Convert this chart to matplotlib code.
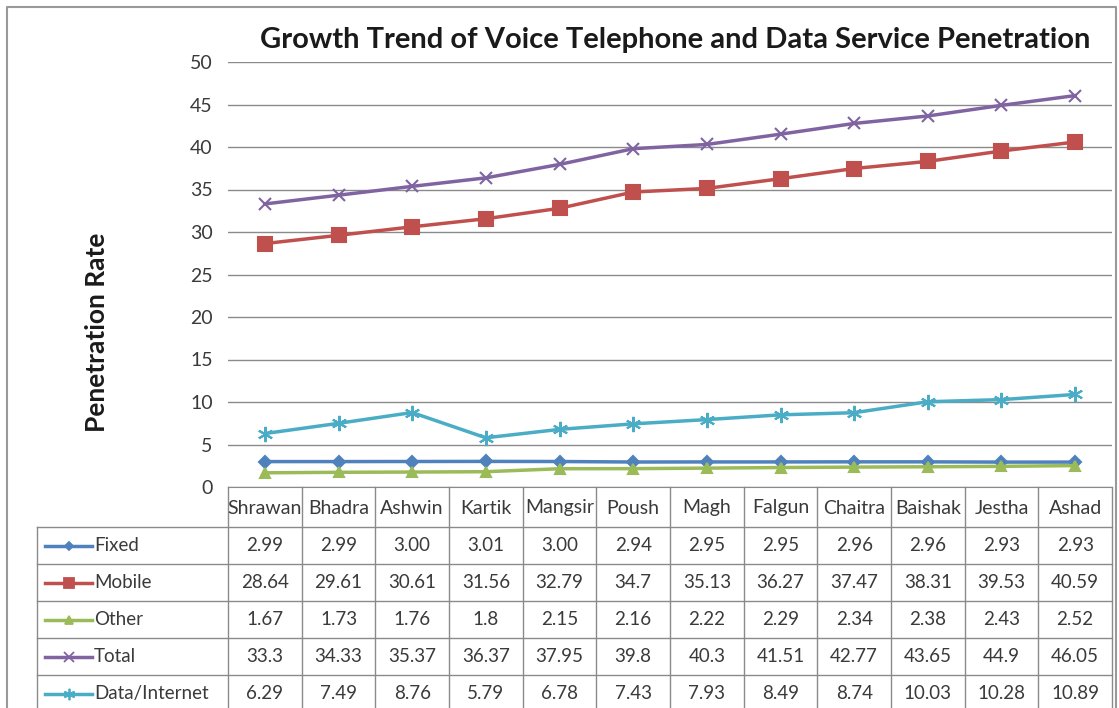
import matplotlib.pyplot as plt

plt.rcParams['font.family'] = ['Lato', 'DejaVu Sans']

months = ["Shrawan", "Bhadra", "Ashwin", "Kartik", "Mangsir", "Poush",
          "Magh", "Falgun", "Chaitra", "Baishak", "Jestha", "Ashad"]

fixed = [2.99, 2.99, 3.00, 3.01, 3.00, 2.94, 2.95, 2.95, 2.96, 2.96, 2.93, 2.93]
mobile = [28.64, 29.61, 30.61, 31.56, 32.79, 34.7, 35.13, 36.27, 37.47, 38.31, 39.53, 40.59]
other = [1.67, 1.73, 1.76, 1.8, 2.15, 2.16, 2.22, 2.29, 2.34, 2.38, 2.43, 2.52]
total = [33.3, 34.33, 35.37, 36.37, 37.95, 39.8, 40.3, 41.51, 42.77, 43.65, 44.9, 46.05]
data_net = [6.29, 7.49, 8.76, 5.79, 6.78, 7.43, 7.93, 8.49, 8.74, 10.03, 10.28, 10.89]

# label text as printed in the table
fixed_txt = ["2.99", "2.99", "3.00", "3.01", "3.00", "2.94", "2.95", "2.95", "2.96", "2.96", "2.93", "2.93"]

series = [
    ("Fixed", fixed, fixed_txt, "#4F81BD", "D", 6),
    ("Mobile", mobile, None, "#C0504D", "s", 10),
    ("Other", other, None, "#9BBB59", "^", 7),
    ("Total", total, None, "#8064A2", "x", 9),
    ("Data/Internet", data_net, None, "#4BACC6", (6, 2, 0), 11),
]

W, H = 1119, 708
fig = plt.figure(figsize=(W / 100, H / 100), dpi=100)
txt_c = "#3a3a3a"

# plot area in pixel terms
px_l, px_r, px_t, px_b = 228, 1112, 62, 487
ax = fig.add_axes([px_l / W, 1 - px_b / H, (px_r - px_l) / W, (px_b - px_t) / H])
x = list(range(len(months)))
for name, vals, txt, col, mk, ms in series:
    ax.plot(x, vals, color=col, lw=2.5, marker=mk, ms=ms, mew=1.5, zorder=3)
ax.set_xlim(-0.5, len(months) - 0.5)
ax.set_ylim(0, 50)
ax.set_yticks(range(0, 51, 5))
ax.yaxis.grid(True, color="#8a8a8a", lw=1)
ax.set_axisbelow(True)
ax.set_xticks([])
ax.tick_params(axis="y", length=0, labelsize=14, labelcolor=txt_c, pad=11)
for s in ax.spines.values():
    s.set_visible(False)
ax.spines["bottom"].set_visible(True)
ax.spines["bottom"].set_color("#8a8a8a")

# overlay in pixel coordinates for title, label and data table
ov = fig.add_axes([0, 0, 1, 1], zorder=5)
ov.set_xlim(0, W)
ov.set_ylim(H, 0)
ov.axis("off")
ov.patch.set_alpha(0)

# outer chart frame
ov.plot([7, 7, 1116, 1116], [H, 7, 7, H], color="#999999", lw=1.5)

ov.text(675, 40, "Growth Trend of Voice Telephone and Data Service Penetration",
        ha="center", va="center", fontsize=21, fontweight="bold", color="#1a1a1a")
ov.text(97, 332, "Penetration Rate", rotation=90, ha="center", va="center",
        fontsize=19, fontweight="bold", color="#1a1a1a")

col_w = (px_r - px_l) / len(months)
row_edges = [527, 564, 601, 638, 675, 712]
line_c = "#8a8a8a"

# header row with month names
for i, m in enumerate(months):
    ov.text(px_l + (i + 0.5) * col_w, 508, m, ha="center", va="center",
            fontsize=14, color=txt_c)
for i in range(len(months) + 1):
    ov.plot([px_l + i * col_w] * 2, [px_b, H], color=line_c, lw=1)

# horizontal rules of the table
for y in row_edges[:-1]:
    ov.plot([37, px_r], [y, y], color=line_c, lw=1)
ov.plot([37, 37], [527, H], color=line_c, lw=1)

for r, (name, vals, txt, col, mk, ms) in enumerate(series):
    yc = (row_edges[r] + row_edges[r + 1]) / 2
    ov.plot([45, 92], [yc, yc], color=col, lw=2.5)
    ov.plot([68.5], [yc], color=col, marker=mk, ms=ms * 0.75, mew=1.3)
    ov.text(94, yc, name, ha="left", va="center", fontsize=13.5, color=txt_c)
    labels = txt if txt else [f"{v:g}" for v in vals]
    for i, lab in enumerate(labels):
        ov.text(px_l + (i + 0.5) * col_w, yc, lab, ha="center", va="center",
                fontsize=13.5, color=txt_c)

fig.savefig("out.png", dpi=100)
